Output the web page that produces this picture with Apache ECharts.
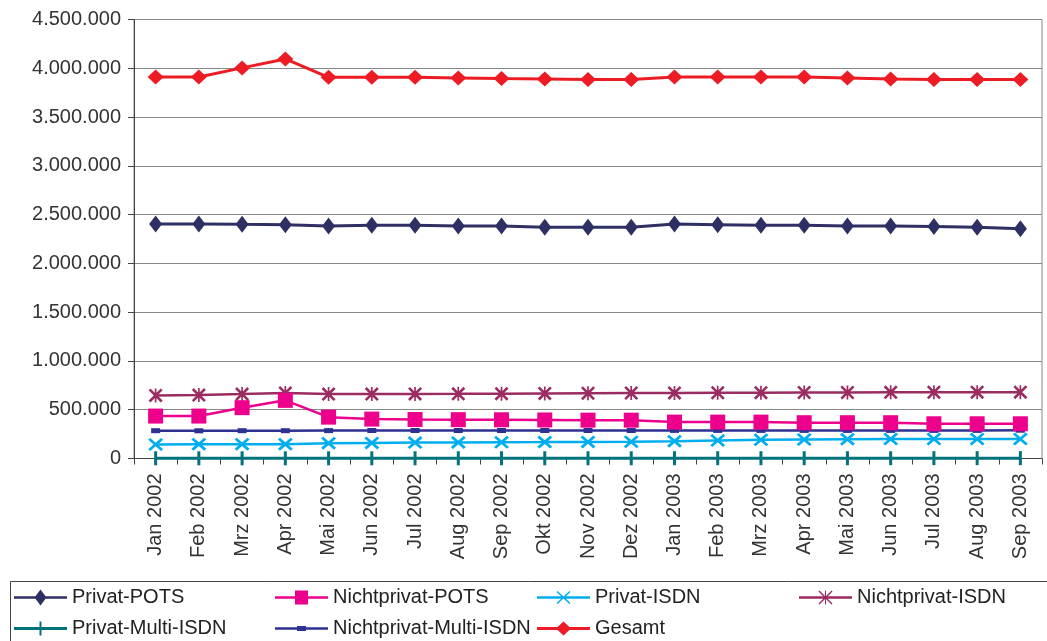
<!DOCTYPE html>
<html>
<head>
<meta charset="utf-8">
<script src="https://cdn.jsdelivr.net/npm/echarts@6/dist/echarts.min.js"></script>
<style>
html,body{margin:0;padding:0;background:#fff;}
#chart{width:1047px;height:641px;}
</style>
</head>
<body>
<div id="chart"></div>
<script>
const categories = ['Jan 2002','Feb 2002','Mrz 2002','Apr 2002','Mai 2002','Jun 2002','Jul 2002','Aug 2002','Sep 2002','Okt 2002','Nov 2002','Dez 2002','Jan 2003','Feb 2003','Mrz 2003','Apr 2003','Mai 2003','Jun 2003','Jul 2003','Aug 2003','Sep 2003'];
const privatPots = [2404000,2404000,2400000,2397000,2384000,2390000,2390000,2384000,2384000,2370000,2370000,2370000,2404000,2397000,2390000,2390000,2384000,2384000,2377000,2370000,2356000];
const nichtprivatPots = [435000,435000,521000,596000,424000,404000,400000,398000,397000,395000,393000,393000,373000,373000,373000,367000,367000,367000,356000,356000,356000];
const privatIsdn = [144000,147000,147000,147000,157000,160000,163000,165000,167000,168000,170000,172000,178000,185000,192000,195000,198000,200000,200000,200000,200000];
const nichtprivatIsdn = [647000,650000,660000,671000,660000,660000,662000,663000,665000,667000,669000,671000,672000,674000,675000,676000,677000,678000,679000,680000,680000];
const privatMultiIsdn = [2000,2000,2000,2000,2000,2000,2500,2500,2500,2500,2500,2500,3000,3000,3000,3000,3000,3000,3500,3500,3500];
const nichtprivatMultiIsdn = [285000,284000,285000,285000,286000,287000,287000,287000,287000,287000,287000,287000,288000,288000,288000,288000,288000,288000,288000,288000,290000];
const gesamt = [3911000,3910000,4004000,4096000,3907000,3907000,3907000,3901000,3894000,3891000,3884000,3884000,3911000,3911000,3911000,3911000,3901000,3891000,3884000,3884000,3884000];
const yTicks = [0,500000,1000000,1500000,2000000,2500000,3000000,3500000,4000000,4500000];

const seriesNames = ['Privat-POTS','Nichtprivat-POTS','Privat-ISDN','Nichtprivat-ISDN','Privat-Multi-ISDN','Nichtprivat-Multi-ISDN','Gesamt'];
const colors = ['#2E3064','#EC008C','#00AEEF','#9B2C62','#00737C','#2E3192','#ED1C24'];

const X_PATH = 'path://M0,1.4L1.4,0L10,8.6L8.6,10Z M8.6,0L10,1.4L1.4,10L0,8.6Z';
const STAR_PATH = 'path://M0,1.3L1.3,0L10,8.7L8.7,10Z M8.7,0L10,1.3L1.3,10L0,8.7Z M4.4,0L5.6,0L5.6,10L4.4,10Z';
const BAR_PATH = 'path://M0,0L2,0L2,10L0,10Z';

// legend icons (line + marker), drawn in a 53 x H box
const legendIcons = [
  {h: 16, p: 'path://M0,6.75L53,6.75L53,9.25L0,9.25Z M20.5,8L26.5,0L32.5,8L26.5,16Z'},
  {h: 14, p: 'path://M0,5.75L53,5.75L53,8.25L0,8.25Z M20,0L33,0L33,14L20,14Z'},
  {h: 13, p: 'path://M0,5.25L53,5.25L53,7.75L0,7.75Z M19.5,1L20.6,0L33.5,12L32.4,13Z M32.4,0L33.5,1L20.6,13L19.5,12Z'},
  {h: 14, p: 'path://M0,5.75L53,5.75L53,8.25L0,8.25Z M19.5,1L20.5,0L33.5,13L32.5,14Z M32.5,0L33.5,1L20.5,14L19.5,13Z M26,0L27,0L27,14L26,14Z'},
  {h: 14, p: 'path://M0,5.5L53,5.5L53,8.5L0,8.5Z M25.5,0L27.5,0L27.5,14L25.5,14Z'},
  {h: 5, p: 'path://M0,1.25L53,1.25L53,3.75L0,3.75Z M22,0L31,0L31,5L22,5Z'},
  {h: 14, p: 'path://M0,5.5L53,5.5L53,8.5L0,8.5Z M19,7L26.5,0L34,7L26.5,14Z'}
];

function fmt(v){ return String(v).replace(/\B(?=(\d{3})+(?!\d))/g, '.'); }

const FONT = 'Liberation Sans, Arial, sans-serif';
const chart = echarts.init(document.getElementById('chart'));

function mk(name, data, color, symbol, size, width, z){
  return {
    name: name, type: 'line', data: data, symbol: symbol, symbolSize: size,
    showAllSymbol: true, z: z,
    lineStyle: {color: color, width: width},
    itemStyle: {color: color, borderWidth: 0},
    emphasis: {disabled: true},
    animation: false
  };
}

const series = [
  mk(seriesNames[0], privatPots, colors[0], 'diamond', [13,17], 3, 3),
  mk(seriesNames[1], nichtprivatPots, colors[1], 'rect', [15,15], 2.5, 4),
  mk(seriesNames[2], privatIsdn, colors[2], X_PATH, [15,13], 2.5, 3),
  mk(seriesNames[3], nichtprivatIsdn, colors[3], STAR_PATH, [14,14], 2.5, 3),
  mk(seriesNames[4], privatMultiIsdn, colors[4], BAR_PATH, [3,14], 3, 3),
  mk(seriesNames[5], nichtprivatMultiIsdn, colors[5], 'rect', [9,5], 2.5, 3),
  mk(seriesNames[6], gesamt, colors[6], 'diamond', [16,15], 3, 5)
];

const legendPos = [
  [14,587.5],[275,587.5],[537,587.5],[799,587.5],
  [14,618.5],[275,618.5],[537,618.5]
];
const legends = seriesNames.map((n,i)=>({
  data: [{name: n, icon: legendIcons[i].p}],
  left: legendPos[i][0], top: legendPos[i][1],
  padding: 0,
  itemWidth: 53, itemHeight: legendIcons[i].h, itemGap: 0,
  symbolKeepAspect: false,
  selectedMode: false,
  itemStyle: {borderWidth: 0},
  textStyle: {fontFamily: FONT, fontSize: 20, color: '#222'}
}));

chart.setOption({
  animation: false,
  backgroundColor: '#fff',
  grid: {left: 134, right: 5, top: 19.5, bottom: 182.5, show: true, borderColor: '#888', borderWidth: 1, containLabel: false},
  legend: legends,
  xAxis: {
    type: 'category', data: categories, boundaryGap: true,
    axisLine: {lineStyle: {color: '#444', width: 1}},
    axisTick: {show: true, alignWithLabel: false, length: 6, lineStyle: {color: '#444'}},
    axisLabel: {rotate: 90, interval: 0, margin: 15, fontFamily: FONT, fontSize: 20, color: '#333'},
    splitLine: {show: false}
  },
  yAxis: {
    type: 'value', min: yTicks[0], max: yTicks[yTicks.length-1], interval: 500000,
    axisLine: {show: true, lineStyle: {color: '#444', width: 1}},
    axisTick: {show: true, length: 6, lineStyle: {color: '#444'}},
    axisLabel: {margin: 13, fontFamily: FONT, fontSize: 20, color: '#333', formatter: fmt},
    splitLine: {show: true, lineStyle: {color: '#888', width: 1}}
  },
  graphic: [{
    type: 'rect', shape: {x: 10.5, y: 581.5, width: 1060, height: 80},
    style: {fill: 'none', stroke: '#444', lineWidth: 1}, silent: true, z: 0
  }],
  series: series
});
</script>
</body>
</html>
